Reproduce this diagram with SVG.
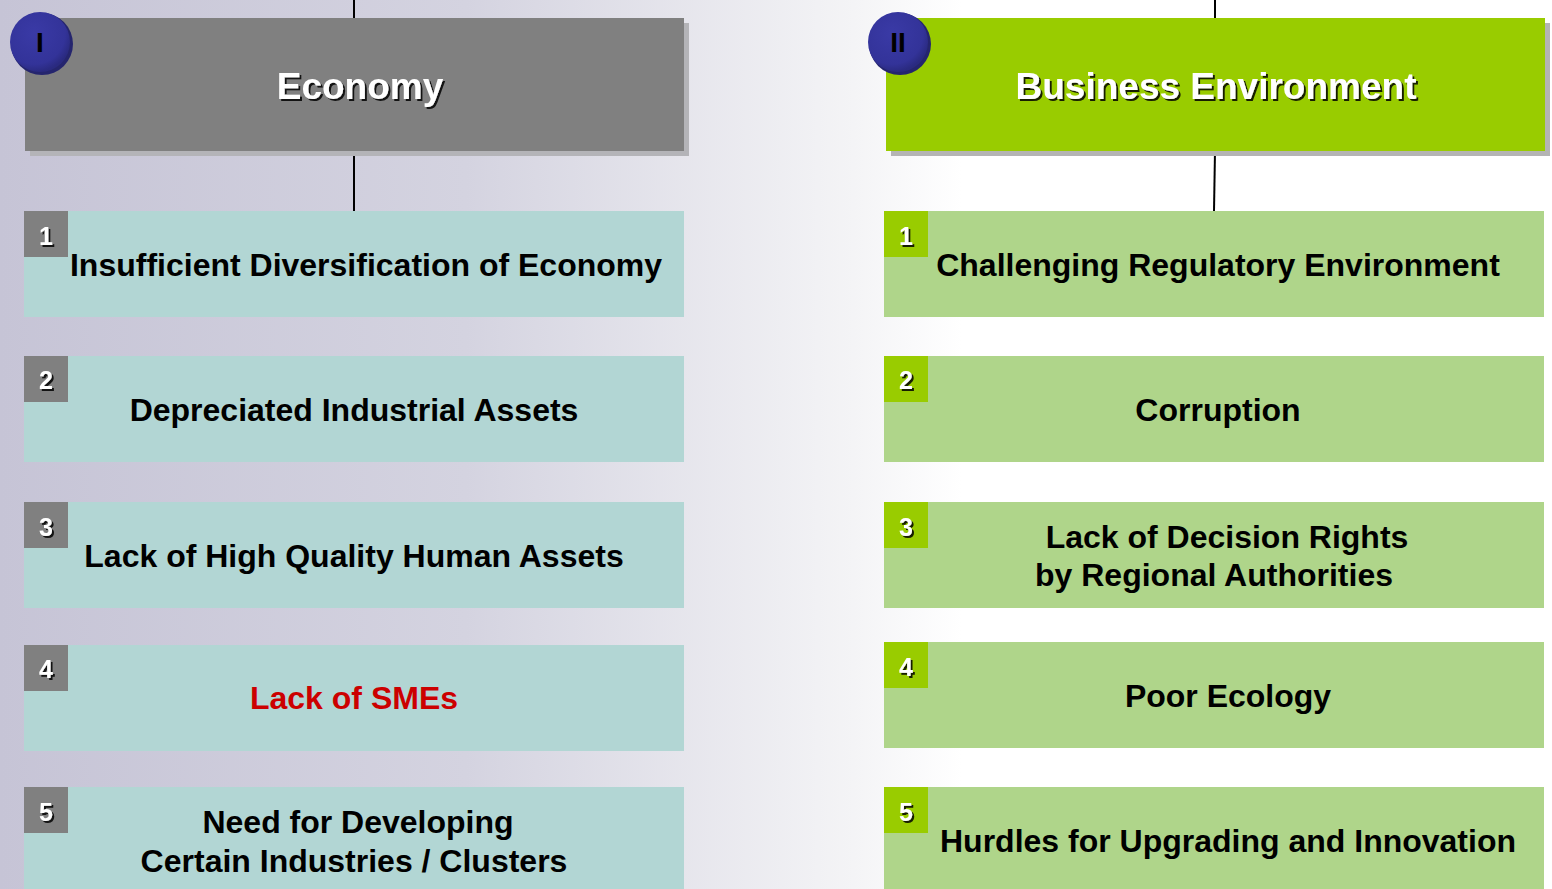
<svg xmlns="http://www.w3.org/2000/svg" width="1552" height="889" viewBox="0 0 1552 889">
<defs>
<linearGradient id="bg" x1="0" y1="0" x2="1" y2="0">
<stop offset="0" stop-color="#c6c4d6"/>
<stop offset="0.3" stop-color="#d4d3e0"/>
<stop offset="0.55" stop-color="#f4f4f6"/>
<stop offset="0.62" stop-color="#ffffff"/>
<stop offset="1" stop-color="#ffffff"/>
</linearGradient>
<radialGradient id="ball" cx="0.4" cy="0.35" r="0.65">
<stop offset="0" stop-color="#3a3aa6"/>
<stop offset="0.8" stop-color="#333399"/>
<stop offset="1" stop-color="#2a2a80"/>
</radialGradient>
<filter id="ts" x="-10%" y="-10%" width="130%" height="140%">
<feDropShadow dx="2" dy="2" stdDeviation="0.6" flood-color="#000" flood-opacity="0.85"/>
</filter>
</defs>
<style>
.hdr{font-family:"Liberation Sans",Arial,sans-serif;font-weight:bold;font-size:37px;fill:#fff;text-anchor:middle}
.rom{font-family:"Liberation Sans",Arial,sans-serif;font-weight:bold;font-size:28px;fill:#000;text-anchor:middle}
.num{font-family:"Liberation Sans",Arial,sans-serif;font-weight:bold;font-size:25px;fill:#fff;text-anchor:middle}
.t{font-family:"Liberation Sans",Arial,sans-serif;font-weight:bold;font-size:32px;fill:#000;text-anchor:middle}
.red{fill:#cc0000}
.cl{fill:#b2d6d4}
.cr{fill:#afd58a}
.bl{fill:#808080}
.br{fill:#99cc00}
.conn{stroke:#000;stroke-width:2;fill:none}
</style>
<rect x="0" y="0" width="1552" height="889" fill="url(#bg)"/>
<g id="connectors">
<line class="conn" x1="354" y1="0" x2="354" y2="18"/>
<line class="conn" x1="354" y1="151" x2="354" y2="211"/>
<line class="conn" x1="1215" y1="0" x2="1215" y2="18"/>
<line class="conn" x1="1215" y1="151" x2="1214" y2="211"/>
</g>
<g id="header-economy">
<rect x="30" y="23" width="659" height="133" fill="#b4b4b8"/>
<rect x="25" y="18" width="659" height="133" fill="#808080"/>
<text class="hdr" x="360" y="99" filter="url(#ts)">Economy</text>
<circle cx="42" cy="44" r="31" fill="#25256e"/>
<circle cx="40" cy="42" r="30" fill="url(#ball)"/>
<text class="rom" x="40" y="52">I</text>
</g>
<g id="header-business">
<rect x="891" y="23" width="659" height="133" fill="#b4b4b4"/>
<rect x="886" y="18" width="659" height="133" fill="#99cc00"/>
<text class="hdr" x="1216" y="99" filter="url(#ts)">Business Environment</text>
<circle cx="900" cy="44" r="31" fill="#25256e"/>
<circle cx="898" cy="42" r="30" fill="url(#ball)"/>
<text class="rom" x="898" y="52">II</text>
</g>
<g id="e1">
<rect class="cl" x="24" y="211" width="660" height="106"/>
<rect class="bl" x="24" y="211" width="44" height="46"/>
<text class="num" x="46" y="245" filter="url(#ts)">1</text>
<text class="t" x="366" y="276">Insufficient Diversification of Economy</text>
</g>
<g id="e2">
<rect class="cl" x="24" y="356" width="660" height="106"/>
<rect class="bl" x="24" y="356" width="44" height="46"/>
<text class="num" x="46" y="389" filter="url(#ts)">2</text>
<text class="t" x="354" y="421">Depreciated Industrial Assets</text>
</g>
<g id="e3">
<rect class="cl" x="24" y="502" width="660" height="106"/>
<rect class="bl" x="24" y="502" width="44" height="46"/>
<text class="num" x="46" y="536" filter="url(#ts)">3</text>
<text class="t" x="354" y="567">Lack of High Quality Human Assets</text>
</g>
<g id="e4">
<rect class="cl" x="24" y="645" width="660" height="106"/>
<rect class="bl" x="24" y="645" width="44" height="46"/>
<text class="num" x="46" y="678" filter="url(#ts)">4</text>
<text class="t red" x="354" y="709">Lack of SMEs</text>
</g>
<g id="e5">
<rect class="cl" x="24" y="787" width="660" height="106"/>
<rect class="bl" x="24" y="787" width="44" height="46"/>
<text class="num" x="46" y="821" filter="url(#ts)">5</text>
<text class="t" x="358" y="833">Need for Developing</text>
<text class="t" x="354" y="872">Certain Industries / Clusters</text>
</g>
<g id="b1">
<rect class="cr" x="884" y="211" width="660" height="106"/>
<rect class="br" x="884" y="211" width="44" height="46"/>
<text class="num" x="906" y="245" filter="url(#ts)">1</text>
<text class="t" x="1218" y="276">Challenging Regulatory Environment</text>
</g>
<g id="b2">
<rect class="cr" x="884" y="356" width="660" height="106"/>
<rect class="br" x="884" y="356" width="44" height="46"/>
<text class="num" x="906" y="389" filter="url(#ts)">2</text>
<text class="t" x="1218" y="421">Corruption</text>
</g>
<g id="b3">
<rect class="cr" x="884" y="502" width="660" height="106"/>
<rect class="br" x="884" y="502" width="44" height="46"/>
<text class="num" x="906" y="536" filter="url(#ts)">3</text>
<text class="t" x="1227" y="548">Lack of Decision Rights</text>
<text class="t" x="1214" y="586">by Regional Authorities</text>
</g>
<g id="b4">
<rect class="cr" x="884" y="642" width="660" height="106"/>
<rect class="br" x="884" y="642" width="44" height="46"/>
<text class="num" x="906" y="676" filter="url(#ts)">4</text>
<text class="t" x="1228" y="707">Poor Ecology</text>
</g>
<g id="b5">
<rect class="cr" x="884" y="787" width="660" height="106"/>
<rect class="br" x="884" y="787" width="44" height="46"/>
<text class="num" x="906" y="821" filter="url(#ts)">5</text>
<text class="t" x="1228" y="852">Hurdles for Upgrading and Innovation</text>
</g>
</svg>
